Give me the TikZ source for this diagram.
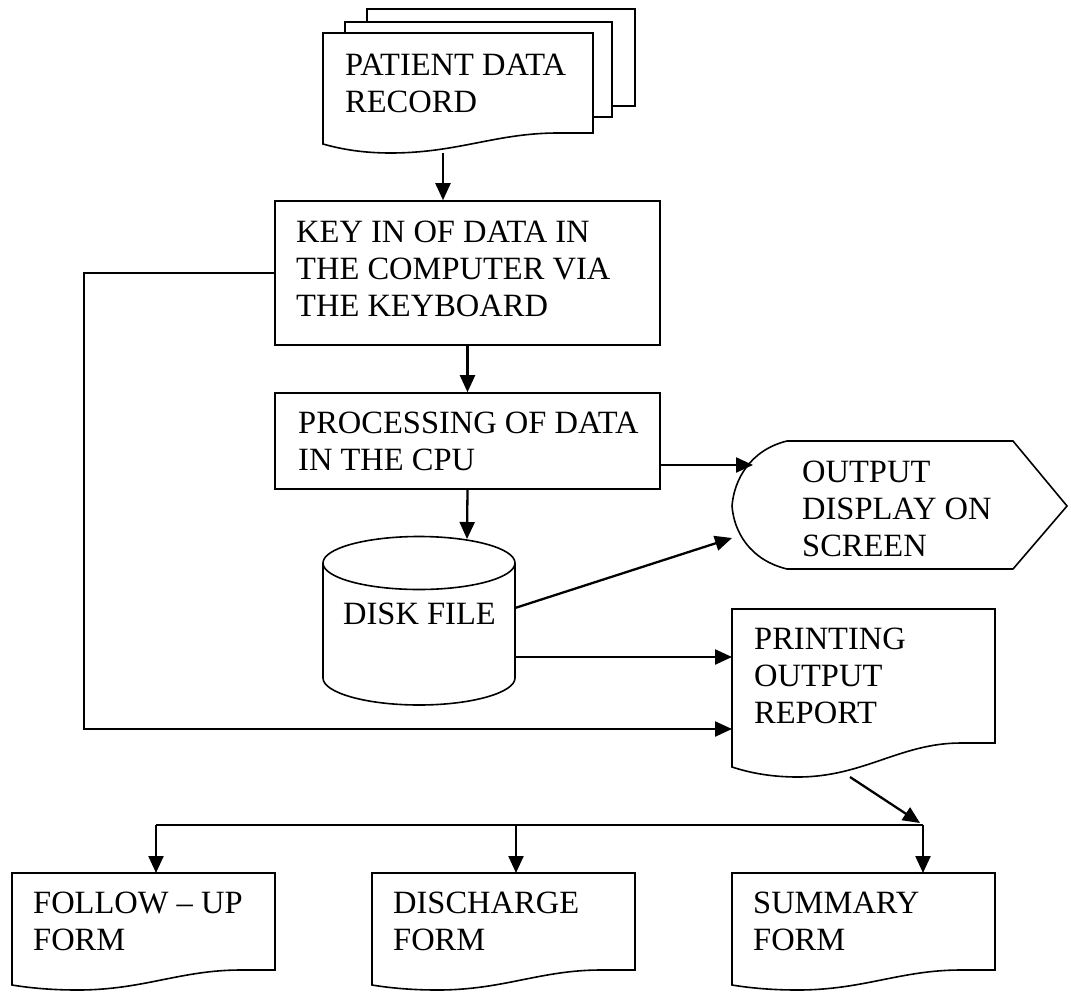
\documentclass[tikz,border=0pt]{standalone}
\usepackage{fontspec}
\setmainfont{Liberation Serif}
\usetikzlibrary{arrows.meta,calc}

% document symbol with a wavy lower edge:
% #1 left, #2 top, #3 right, #4 lower-left y, #5 lower-right y, #6 lowest y, #7 options
\newcommand\docshape[7]{%
  \draw[#7] (#1,#2) -- (#3,#2) -- (#3,#5) -- ({#1+0.87*(#3-#1)},#5)
    .. controls ({#1+0.64*(#3-#1)},#5) and ({#1+0.5*(#3-#1)},#6) .. ({#1+0.25*(#3-#1)},#6)
    .. controls ({#1+0.15*(#3-#1)},#6) and ({#1+0.07*(#3-#1)},{#4+0.6*(#6-#4)}) .. (#1,#4) -- cycle;}

\begin{document}
\begin{tikzpicture}[x=1pt,y=-1pt,
  shp/.style={draw=black,line width=1.6pt,fill=white,line join=miter},
  box/.style={shp,rectangle,inner sep=0pt},
  txt/.style={anchor=north west,inner sep=0pt,align=left,yshift=25.9pt,
    font=\fontsize{32.5}{37}\selectfont},
  conn/.style={draw=black,line width=2.3pt,-{Triangle[length=17pt,width=15pt]}},
  wire/.style={draw=black,line width=2.3pt}]
\useasboundingbox (0,0) rectangle (1071,991);

% patient data record (stack of documents)
\draw[shp] (367,9) rectangle (635,106);
\draw[shp] (345,22) rectangle (612,117);
\docshape{323}{33}{593}{144}{133}{153}{shp}
\node[txt] (rectxt) at (345,75) {\strut PATIENT DATA\\RECORD};
\coordinate (recbot) at (443,153);

% key in box
\node[box,minimum width=385pt,minimum height=144pt] (key) at (467.5,273) {};
\node[txt] (keytxt) at (296,242) {\strut KEY IN OF DATA IN\\THE COMPUTER VIA\\THE KEYBOARD};

% processing box
\node[box,minimum width=385pt,minimum height=96pt] (proc) at (467.5,441) {};
\node[txt] (proctxt) at (298,433) {\strut PROCESSING OF DATA\\IN THE CPU};

% disk file (cylinder)
\draw[shp] (323,563) -- (323,678)
  .. controls (323,692.6) and (366,705) .. (419,705)
  .. controls (472,705) and (515,692.6) .. (515,678) -- (515,563);
\draw[shp] (419,563) ellipse [x radius=96, y radius=26.5];
\node[txt] (disktxt) at (343,624) {\strut DISK FILE};
\coordinate (disktop) at (467,539);
\coordinate (diskr1) at (515,608);
\coordinate (diskr2) at (515,657);

% output display on screen
\draw[shp] (787,441) -- (1013,441) -- (1067,506) -- (1013,569) -- (787,569)
  .. controls (750,560) and (734,532) .. (732,506)
  .. controls (734,480) and (750,450) .. (787,441) -- cycle;
\node[txt] (disptxt) at (802,482) {\strut OUTPUT\\DISPLAY ON\\SCREEN};
\coordinate (dispin1) at (753,465);
\coordinate (dispin2) at (732,538);

% printing output report
\docshape{732}{609}{995}{767}{743}{777}{shp}
\node[txt] (prtxt) at (754,649) {\strut PRINTING\\OUTPUT\\REPORT};
\coordinate (prin1) at (732,657);
\coordinate (prin2) at (732,729);
\coordinate (prbot) at (850,777);

% output forms
\docshape{12}{873}{275}{985}{970}{990}{shp}
\docshape{372}{873}{635}{985}{970}{990}{shp}
\docshape{732}{873}{995}{985}{970}{990}{shp}
\node[txt] (f1txt) at (33,913) {\strut FOLLOW – UP\\FORM};
\node[txt] (f2txt) at (393,913) {\strut DISCHARGE\\FORM};
\node[txt] (f3txt) at (753,913) {\strut SUMMARY\\FORM};
\coordinate (f1top) at (156,873);
\coordinate (f2top) at (516,873);
\coordinate (f3top) at (923,873);

% distribution bus
\coordinate (busL) at (156,825);
\coordinate (busM) at (516,825);
\coordinate (busR) at (923,825);
\coordinate (busin) at (920,823);
\coordinate (bypass) at (84,273);

% connectors
\draw[conn] (recbot) -- (key.north -| recbot);
\draw[conn] (key.south) -- (proc.north);
\draw[conn] (proc.south) -- (disktop);
\draw[conn] (proc.east |- dispin1) -- (dispin1);
\draw[conn] (diskr1) -- (dispin2);
\draw[conn] (diskr2) -- (prin1);
\draw[conn] (key.west) -- (bypass) -- (bypass |- prin2) -- (prin2);
\draw[conn] (prbot) -- (busin);
\draw[wire] (busL) -- (busR);
\draw[conn] (busL) -- (f1top);
\draw[conn] (busM) -- (f2top);
\draw[conn] (busR) -- (f3top);
\end{tikzpicture}
\end{document}
